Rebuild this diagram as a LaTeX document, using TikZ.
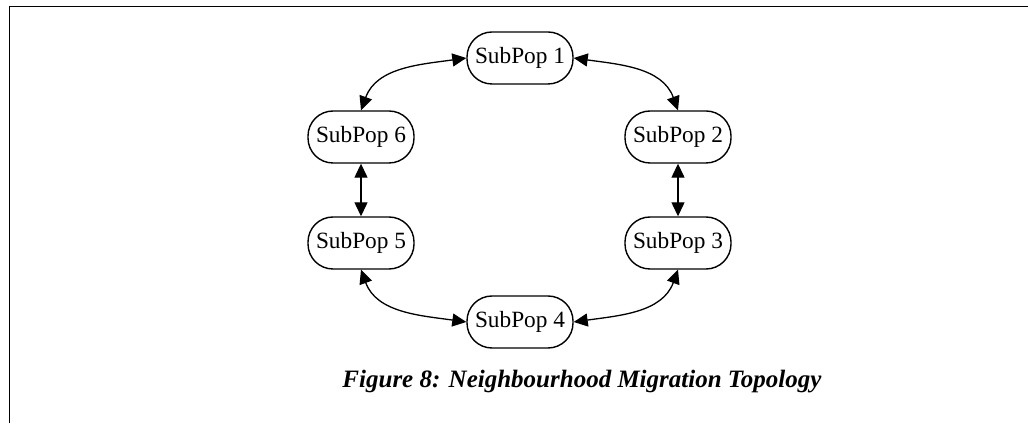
\documentclass[tikz,border=0pt]{standalone}
\usepackage{fontspec}
\setmainfont{Liberation Serif}
\usetikzlibrary{arrows.meta}
\tikzset{
  pop/.style={draw, line width=1.4pt, rounded corners=25pt, minimum width=106pt, minimum height=52pt, inner sep=0pt, font=\fontsize{23.3}{28}\selectfont},
  link/.style={line width=1.3pt, {Triangle[length=14pt,width=13pt]}-{Triangle[length=14pt,width=13pt]}},
  frame/.style={line width=1.5pt}
}
\begin{document}
\begin{tikzpicture}[x=1pt,y=1pt]
\useasboundingbox (0,0) rectangle (1028,423);
\coordinate (fb) at (9.5,0);
\coordinate (fc) at (9.5,416.5);
\coordinate (fr) at (1028,416.5);
\draw[frame] (fb) -- (fc) -- (fr);
\node[pop] (n1) at (520,365) {SubPop 1};
\node[pop] (n2) at (678,286) {SubPop 2};
\node[pop] (n3) at (678,180) {SubPop 3};
\node[pop] (n4) at (520,101) {SubPop 4};
\node[pop] (n5) at (361,180) {SubPop 5};
\node[pop] (n6) at (361,286) {SubPop 6};
\draw[link] (n1.west) to[out=188,in=70] (n6.north);
\draw[link] (n1.east) to[out=-8,in=110] (n2.north);
\draw[link] (n6.south) -- (n5.north);
\draw[link] (n2.south) -- (n3.north);
\draw[link] (n5.south) to[out=-70,in=172] (n4.west);
\draw[link] (n3.south) to[out=-110,in=8] (n4.east);
\node[font=\fontsize{25}{30}\selectfont\bfseries\itshape] (cap) at (582,41) {Figure 8: Neighbourhood Migration Topology};
\end{tikzpicture}
\end{document}
